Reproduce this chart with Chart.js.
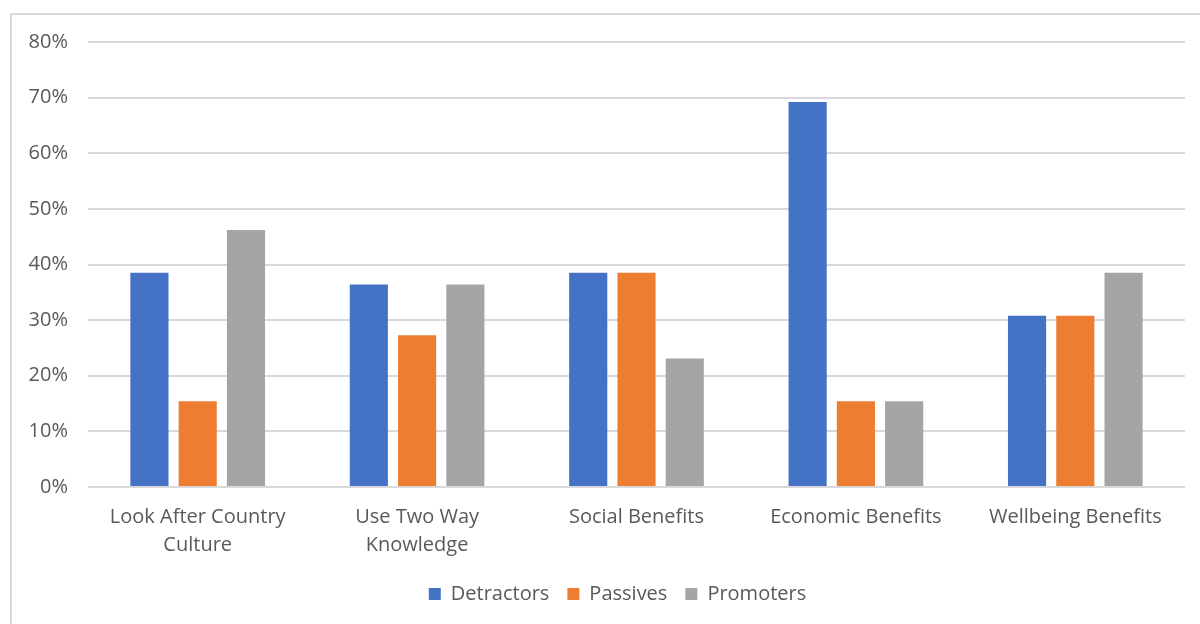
<!DOCTYPE html>
<html>
<head>
<meta charset="utf-8">
<script src="https://cdn.jsdelivr.net/npm/chart.js@4/dist/chart.umd.min.js"></script>
<style>
  html, body { margin: 0; padding: 0; background: #fff; }
  #wrap { position: relative; width: 1200px; height: 624px; overflow: hidden; }
  #frame {
    position: absolute; left: 10px; top: 13px; width: 1300px; height: 700px;
    border-left: 2px solid #d9d9d9; border-top: 2px solid #d9d9d9;
  }
  canvas { position: absolute; left: 0; top: 0; }
</style>
</head>
<body>
<div id="wrap">
  <div id="frame"></div>
  <canvas id="barChart" width="1200" height="624"></canvas>
</div>
<script>
const categories = [
  ["Look After Country", "Culture"],
  ["Use Two Way", "Knowledge"],
  "Social Benefits",
  "Economic Benefits",
  "Wellbeing Benefits",
];
const detractors = [38.5, 36.4, 38.5, 69.2, 30.8];
const passives = [15.4, 27.3, 38.5, 15.4, 30.8];
const promoters = [46.2, 36.4, 23.1, 15.4, 38.5];

const font = { family: "'Open Sans', sans-serif", size: 20 };

// nudge the legend so it is centred under the plot like the original
const legendShift = {
  id: "legendShift",
  afterLayout(chart) {
    chart.legend.left += 50;
  },
};

new Chart(document.getElementById("barChart"), {
  type: "bar",
  data: {
    labels: categories,
    datasets: [
      { label: "Detractors", data: detractors, backgroundColor: "#4472c4" },
      { label: "Passives", data: passives, backgroundColor: "#ed7d31" },
      { label: "Promoters", data: promoters, backgroundColor: "#a5a5a5" },
    ],
  },
  plugins: [legendShift],
  options: {
    responsive: false,
    animation: false,
    categoryPercentage: 0.66,
    barPercentage: 0.79,
    layout: { padding: { top: 42, right: 15, left: 0, bottom: 10 } },
    scales: {
      x: {
        grid: { display: false },
        border: { display: false },
        ticks: { color: "#595959", font: { ...font, lineHeight: 1.4 }, padding: 8, maxRotation: 0 },
        afterFit: (s) => { s.height = 79; },
      },
      y: {
        min: 0,
        max: 80,
        grid: { color: "#d9d9d9", lineWidth: 2, drawTicks: false },
        border: { display: false },
        ticks: {
          stepSize: 10,
          color: "#595959",
          font: font,
          padding: 20,
          callback: (v) => v + "%",
        },
        afterFit: (s) => { s.width = 88; },
      },
    },
    plugins: {
      tooltip: { enabled: false },
      legend: {
        position: "bottom",
        labels: {
          color: "#595959",
          font: font,
          boxWidth: 12,
          boxHeight: 12,
          padding: 18,
        },
      },
    },
  },
});
</script>
</body>
</html>
